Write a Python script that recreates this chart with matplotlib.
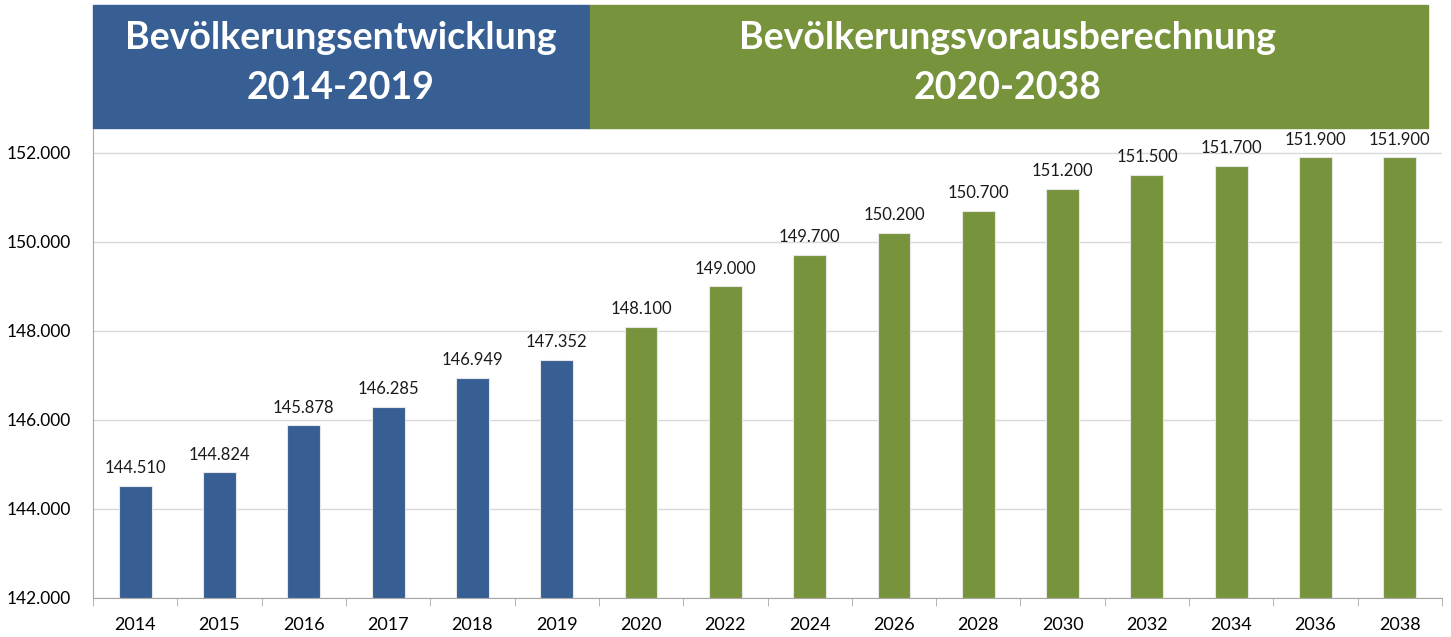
import matplotlib
import matplotlib.pyplot as plt
from matplotlib.patches import Rectangle
from matplotlib.ticker import FuncFormatter, FixedLocator

matplotlib.use("agg")
plt.rcParams["font.family"] = ["Lato", "DejaVu Sans"]

years = ["2014", "2015", "2016", "2017", "2018", "2019", "2020", "2022",
         "2024", "2026", "2028", "2030", "2032", "2034", "2036", "2038"]
population = [144510, 144824, 145878, 146285, 146949, 147352, 148100, 149000,
              149700, 150200, 150700, 151200, 151500, 151700, 151900, 151900]
n_history = 6
blue = "#375F93"
green = "#77933C"

fig = plt.figure(figsize=(14.51, 6.37), dpi=100)
W, H = 1451, 637
ax = fig.add_axes([93 / W, 1 - 598 / H, (1442 - 93) / W, (598 - 128) / H])

x = list(range(len(years)))
colors = [blue if i < n_history else green for i in x]
ax.bar(x, [p - 142000 for p in population], bottom=142000, width=0.39,
       color=colors, edgecolor="#e6e6e6", linewidth=0.8, zorder=3)

for xi, p in zip(x, population):
    label = f"{p:,}".replace(",", ".")
    ax.text(xi, p + 220, label, ha="center", va="bottom", fontsize=12, color="#1a1a1a")

ax.set_xlim(-0.5, len(years) - 0.5)
ax.set_ylim(142000, 152560)
ax.set_yticks([142000, 144000, 146000, 148000, 150000, 152000])
ax.yaxis.set_major_formatter(FuncFormatter(lambda v, _: f"{int(v):,}".replace(",", ".")))
ax.set_xticks(x)
ax.set_xticklabels(years)
ax.xaxis.set_minor_locator(FixedLocator([i + 0.5 for i in range(-1, len(years))]))
ax.tick_params(axis="x", which="major", length=0, labelsize=13, pad=14)
ax.tick_params(axis="x", which="minor", length=6, color="#a6a6a6")
ax.tick_params(axis="y", length=0, labelsize=12.5, pad=16)
ax.grid(axis="y", color="#d9d9d9", linewidth=1, zorder=0)
for side in ["top", "right"]:
    ax.spines[side].set_visible(False)
ax.spines["left"].set_color("#a6a6a6")
ax.spines["bottom"].set_color("#a6a6a6")

# header banners
top, bot = 1 - 5 / H, 1 - 128 / H
fig.patches.append(Rectangle((93 / W, bot), (590 - 93) / W, top - bot,
                             transform=fig.transFigure, color=blue, zorder=0))
fig.patches.append(Rectangle((590 / W, bot), (1428 - 590) / W, top - bot,
                             transform=fig.transFigure, color=green, zorder=0))
fig.text(341 / W, 1 - 63 / H, "Bevölkerungsentwicklung\n2014-2019", ha="center", va="center",
         color="white", fontsize=27, fontweight="bold", linespacing=1.55)
fig.text(1008 / W, 1 - 63 / H, "Bevölkerungsvorausberechnung\n2020-2038", ha="center", va="center",
         color="white", fontsize=27, fontweight="bold", linespacing=1.55)

fig.savefig("out.png", dpi=100)
